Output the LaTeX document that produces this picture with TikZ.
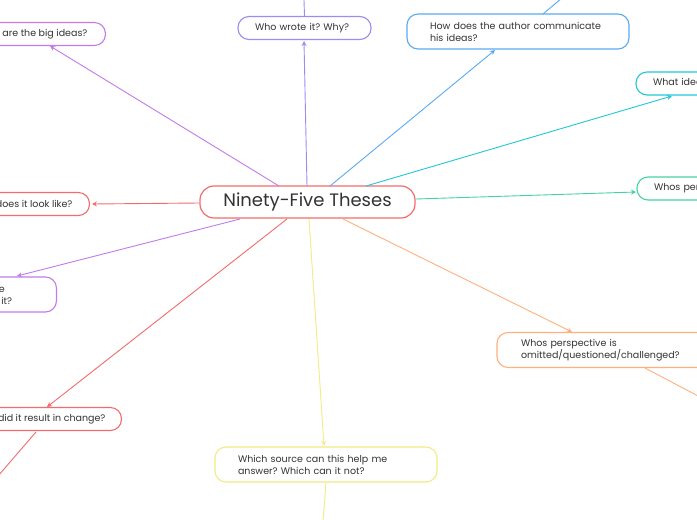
\documentclass[tikz,border=0pt]{standalone}
\usepackage{fontspec}
\setmainfont{Poppins}
\frenchspacing
\usetikzlibrary{arrows.meta}
\definecolor{cred}{HTML}{F46B6B}
\definecolor{cpur}{HTML}{C27BE8}
\definecolor{cvio}{HTML}{9C8CF2}
\definecolor{cblu}{HTML}{5AAAF2}
\definecolor{ccya}{HTML}{22C8D6}
\definecolor{cgrn}{HTML}{44D49E}
\definecolor{cora}{HTML}{FFB07E}
\definecolor{cyel}{HTML}{F4EA86}
\definecolor{ctxt}{HTML}{333333}
\tikzset{
  box/.style={draw, rounded corners=11pt, line width=1.1pt, fill=white, align=left,
    font=\fontsize{9.5}{12}\selectfont, text=ctxt, inner ysep=0pt, minimum height=#1},
  box/.default=23pt,
  link/.style={line width=0.9pt, -{Stealth[length=5pt,width=5pt]}}
}
\begin{document}
\begin{tikzpicture}[x=1pt,y=-1pt]
\useasboundingbox (0,0) rectangle (697,520);
\fill[white] (0,0) rectangle (697,520);
\clip (0,0) rectangle (697,520);
% central
\node[draw=cred, line width=1.2pt, rounded corners=14pt, fill=white, minimum width=215pt, minimum height=32pt, font=\fontsize{18}{20}\selectfont, text=ctxt] (c) at (307.5,202) {Ninety-Five Theses};
% children
\node[box, draw=cpur, inner xsep=18pt, anchor=east] (big) at (106,34) {What are the big ideas?};
\node[box, draw=cvio, inner xsep=17pt, text width=99pt] (who) at (304.5,28) {Who wrote it? Why?};
\node[box=35pt, draw=cblu, inner xsep=23pt, text width=176pt] (how) at (518,31.5) {How does the author communicate\\his ideas?};
\node[box, draw=ccya, inner xsep=17pt, text width=150pt] (what) at (728,83.5) {What ideas were challenged?};
\node[box, draw=cgrn, inner xsep=17pt, text width=150pt] (whos) at (729,188.5) {Whos perspective is shown?};
\node[box=35pt, draw=cora, inner xsep=24pt, text width=190pt] (omit) at (616,350) {Whos perspective is\\omitted/questioned/challenged?};
\node[box=35pt, draw=cyel, inner xsep=23pt, text width=176pt] (src) at (326,464.5) {Which source can this help me\\answer? Which can it not?};
\node[box, draw=cred, inner xsep=16pt, anchor=east] (chg) at (122,419) {Why and how did it result in change?};
\node[box, draw=cred, inner xsep=17pt, anchor=east] (look) at (90,204) {What does it look like?};
\node[box=35pt, draw=cpur, inner xsep=16pt, text width=90pt, anchor=east] (ctx) at (57,294.5) {What is the\\context of it?};
% attach points
\coordinate (a1) at (279,186); \coordinate (b1) at (50,46);
\coordinate (a2) at (307,186); \coordinate (b2) at (304,41);
\coordinate (a3) at (330,186); \coordinate (b3) at (495,50);
\coordinate (a4) at (366,186); \coordinate (b4) at (672,96);
\coordinate (a5) at (416,199); \coordinate (b5) at (636,192);
\coordinate (a6) at (343,219); \coordinate (b6) at (572,332);
\coordinate (a7) at (309,219); \coordinate (b7) at (324,446);
\coordinate (a8) at (287,219); \coordinate (b8) at (47,407);
\coordinate (a9) at (240,219); \coordinate (b9) at (17,276);
\coordinate (a10) at (199,203); \coordinate (b10) at (92,204);
\draw[link, cpur] (a1) -- (b1);
\draw[link, cvio] (a2) -- (b2);
\draw[link, cblu] (a3) -- (b3);
\draw[link, ccya] (a4) -- (b4);
\draw[link, cgrn] (a5) -- (b5);
\draw[link, cora] (a6) -- (b6);
\draw[link, cyel] (a7) -- (b7);
\draw[link, cred] (a8) -- (b8);
\draw[link, cpur] (a9) -- (b9);
\draw[link, cred] (a10) -- (b10);
% outgoing lines
\coordinate (o1) at (304,0); \coordinate (o2) at (562,-2);
\coordinate (o3) at (700,397); \coordinate (o4) at (323,522); \coordinate (o5) at (-2,476);
\draw[line width=0.9pt, cvio] (who.north) -- (o1);
\draw[line width=0.9pt, cblu] (543,14) -- (o2);
\draw[line width=0.9pt, cora] (645,368) -- (o3);
\draw[line width=0.9pt, cyel] (src.south) -- (o4);
\draw[line width=0.9pt, cred] (36,432) -- (o5);
\end{tikzpicture}
\end{document}
